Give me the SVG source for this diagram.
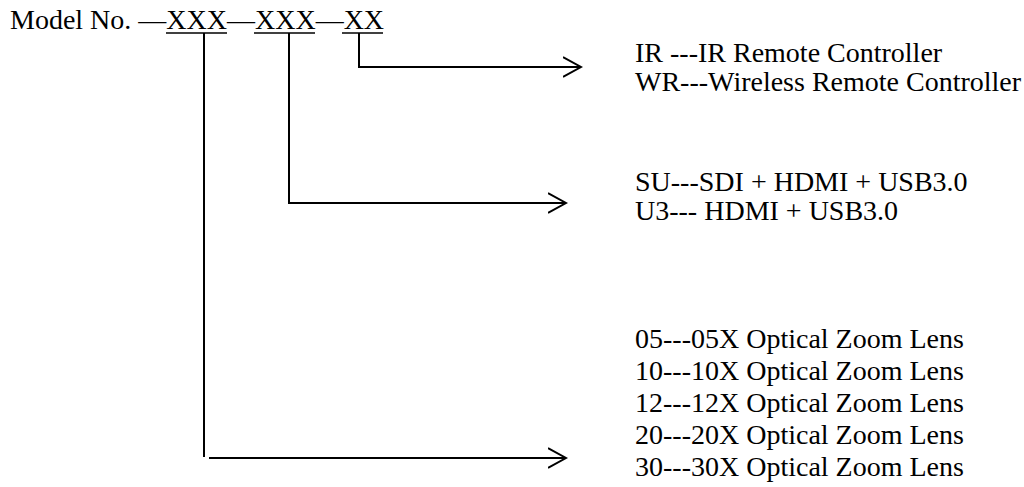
<svg xmlns="http://www.w3.org/2000/svg" width="1024" height="487" viewBox="0 0 1024 487">
<style>
.t{font-family:"Liberation Serif","Times New Roman",serif;font-size:28px;fill:#000}
.ln{stroke:#000;stroke-width:2;fill:none}
.ul{stroke:#000;stroke-width:1.4}
</style>
<defs>
<marker id="arr" markerWidth="20" markerHeight="24" refX="18" refY="11" orient="auto" markerUnits="userSpaceOnUse">
<path d="M0,1 L18,11 L0,21" fill="none" stroke="#000" stroke-width="2"/>
</marker>
</defs>
<rect width="1024" height="487" fill="#fff"/>
<g id="model">
<text class="t" x="10" y="29">Model No. —XXX—XXX—XX</text>
<line class="ul" x1="166" y1="33" x2="227" y2="33"/>
<line class="ul" x1="254" y1="33" x2="315" y2="33"/>
<line class="ul" x1="342" y1="33" x2="383" y2="33"/>
</g>
<g id="remote">
<text class="t" x="635" y="62">IR ---IR Remote Controller</text>
<text class="t" x="635" y="91">WR---Wireless Remote Controller</text>
</g>
<g id="interface">
<text class="t" x="635" y="191">SU---SDI + HDMI + USB3.0</text>
<text class="t" x="635" y="220">U3--- HDMI + USB3.0</text>
</g>
<g id="lens">
<text class="t" x="635" y="348">05---05X Optical Zoom Lens</text>
<text class="t" x="635" y="380">10---10X Optical Zoom Lens</text>
<text class="t" x="635" y="412">12---12X Optical Zoom Lens</text>
<text class="t" x="635" y="444">20---20X Optical Zoom Lens</text>
<text class="t" x="635" y="476">30---30X Optical Zoom Lens</text>
</g>
<g id="connectors">
<path class="ln" d="M359,33 V67 H581" marker-end="url(#arr)"/>
<path class="ln" d="M289,33 V203 H566" marker-end="url(#arr)"/>
<path class="ln" d="M204,33 V457"/>
<path class="ln" d="M209,458 H566" marker-end="url(#arr)"/>
</g>
</svg>
